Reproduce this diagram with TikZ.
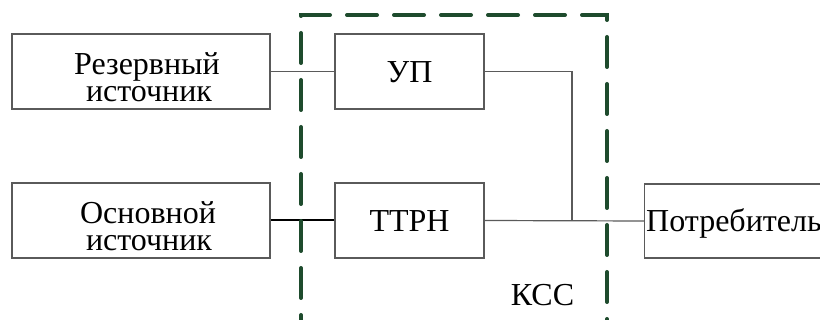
\documentclass[tikz,border=0pt]{standalone}
\usepackage{fontspec}
\setmainfont{Liberation Serif}
\definecolor{frame}{RGB}{30,75,45}
\definecolor{lin}{RGB}{90,90,90}
\tikzset{
  box/.style={draw=lin, line width=1.4pt, minimum width=258pt, minimum height=75pt, inner sep=0pt},
  sbox/.style={draw=lin, line width=1.4pt, minimum width=149pt, minimum height=75pt, inner sep=0pt, text height=22pt, text depth=0pt},
  lbl/.style={inner sep=0pt, anchor=base},
  wire/.style={draw=lin, line width=1.2pt},
  thickwire/.style={draw=black, line width=2pt},
  kss/.style={draw=frame, line width=4pt, line cap=round, dash pattern=on 30pt off 17pt}
}
\begin{document}
\begin{tikzpicture}[x=1pt,y=-1pt,font=\fontsize{32}{27}\selectfont]
\useasboundingbox (0,0) rectangle (820,320);
\clip (0,0) rectangle (820,320);
\fill[white] (0,0) rectangle (820,320);
% boxes
\node[box] (rez) at (141,71.5) {};
\node[lbl] (rezt1) at (147,75) {Резервный};
\node[lbl] (rezt2) at (149,102) {источник};
\node[box] (osn) at (141,220.5) {};
\node[lbl] (osnt1) at (148,224) {Основной};
\node[lbl] (osnt2) at (149,251) {источник};
\node[sbox] (up) at (409.5,71.5) {УП};
\node[sbox] (ttrn) at (409.5,220.5) {ТТРН};
\node[draw=lin, line width=1.4pt, anchor=west, minimum height=74pt, text width=250pt, align=left, inner xsep=1.5pt, inner ysep=0pt, text height=22pt, text depth=0pt] (potr) at (644,221) {Потребитель};
\node[lbl] (kss) at (542.5,306) {КСС};
% connectors
\coordinate (j) at (572,221);
\draw[wire] (rez.east) -- (up.west);
\draw[wire] (up.east) -- (up.east -| j) -- (j);
\draw[wire] (ttrn.east) -- (potr.west);
\draw[thickwire] (osn.east) -- (ttrn.west);
% frame
\coordinate (fbl) at (301,345);
\coordinate (ftl) at (301,15);
\coordinate (ftr) at (607,15);
\coordinate (fbr) at (607,345);
\draw[kss] (fbl) -- (ftl) -- (ftr) -- (fbr);
\end{tikzpicture}
\end{document}
